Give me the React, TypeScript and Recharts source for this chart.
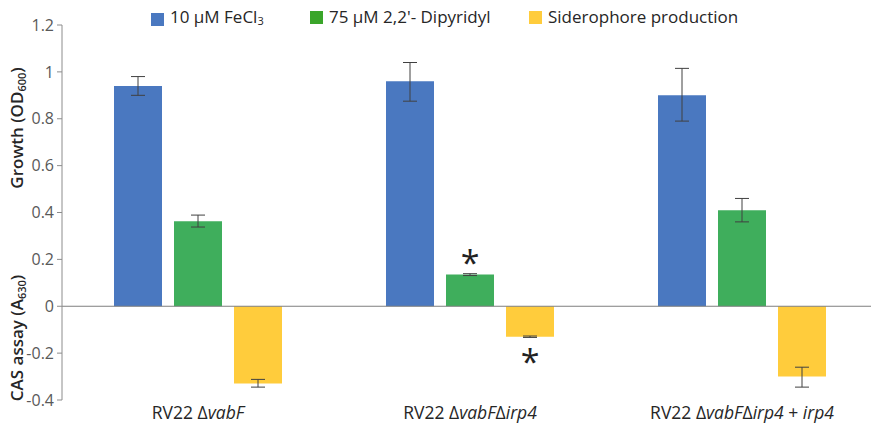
import React from 'react';
import { BarChart, Bar, XAxis, YAxis, ErrorBar, ReferenceLine, LabelList } from 'recharts';

// group labels (italic parts marked)
const strains = ['RV22 ΔvabF', 'RV22 ΔvabFΔirp4', 'RV22 ΔvabFΔirp4 + irp4'];
const tickParts: [string, boolean][][] = [
  [['RV22 Δ', false], ['vabF', true]],
  [['RV22 Δ', false], ['vabF', true], ['Δ', false], ['irp4', true]],
  [['RV22 Δ', false], ['vabF', true], ['Δ', false], ['irp4', true], [' + ', false], ['irp4', true]],
];

const fecl3 = [0.94, 0.96, 0.9];
const fecl3Err = [[0.04, 0.04], [0.085, 0.08], [0.11, 0.115]];
const dipyridyl = [0.363, 0.135, 0.41];
const dipyridylErr = [[0.025, 0.026], [0.004, 0.004], [0.05, 0.05]];
const siderophore = [-0.33, -0.13, -0.3];
const siderophoreErr = [[0.015, 0.018], [0.003, 0.003], [0.045, 0.04]];
const dipyridylSig = [false, true, false];
const siderophoreSig = [false, true, false];

const yTicks = [-0.4, -0.2, 0, 0.2, 0.4, 0.6, 0.8, 1, 1.2];

const COLORS = { blue: '#4a78c0', green: '#3fae5c', yellow: '#ffcc3c', legendGreen: '#3aa52a' };
const FONT = '"Open Sans", sans-serif';

const data = strains.map((name, i) => ({
  name,
  fecl3: fecl3[i],
  fecl3Err: fecl3Err[i],
  dipyridyl: dipyridyl[i],
  dipyridylErr: dipyridylErr[i],
  siderophore: siderophore[i],
  siderophoreErr: siderophoreErr[i],
}));

const legendItems = [
  { label: <>10 µM FeCl<sub style={{ fontSize: 11, verticalAlign: -2 }}>3</sub></>, color: COLORS.blue, left: 151 },
  { label: <>75 µM 2,2'- Dipyridyl</>, color: COLORS.legendGreen, left: 310 },
  { label: <>Siderophore production</>, color: COLORS.yellow, left: 529 },
];

const ChartLegend = () => (
  <div style={{ position: 'absolute', left: 0, top: 0, width: 871, height: 30, fontFamily: FONT, fontSize: 17, color: '#262626', lineHeight: '20px' }}>
    {legendItems.map((it, i) => (
      <div key={i} style={{ position: 'absolute', left: it.left, top: 7, display: 'flex', alignItems: 'center', whiteSpace: 'nowrap' }}>
        <span style={{ display: 'inline-block', width: 13, height: 13, background: it.color, marginRight: 6 }} />
        <span>{it.label}</span>
      </div>
    ))}
  </div>
);

const StrainTick = (props: any) => {
  const { x, y, payload } = props;
  const parts = tickParts[payload.index] || [[payload.value, false]];
  return (
    <text x={x} y={y + 11} textAnchor="middle" fontFamily={FONT} fontSize={17.5} fill="#262626">
      {parts.map(([t, it], k) => (
        <tspan key={k} fontStyle={it ? 'italic' : 'normal'}>{t}</tspan>
      ))}
    </text>
  );
};

const YTitles = () => (
  <g fontFamily={FONT} fontSize={17} fontWeight={600} fill="#262626">
    <text transform="translate(23,128) rotate(-90)" textAnchor="middle">
      Growth (OD<tspan fontSize={11} dy={3}>600</tspan><tspan dy={-3}>)</tspan>
    </text>
    <text transform="translate(23,338) rotate(-90)" textAnchor="middle">
      CAS assay (A<tspan fontSize={11} dy={3}>630</tspan><tspan dy={-3}>)</tspan>
    </text>
  </g>
);

const star = (sig: boolean[], above: boolean) => (props: any) => {
  const { x, y, width, height, index } = props;
  if (!sig[index]) return null;
  const top = Math.min(y, y + height);
  const bottom = Math.max(y, y + height);
  const cy = above ? top - 18 : bottom + 19;
  return (
    <text x={x + width / 2} y={cy + 18} textAnchor="middle" fontFamily={FONT} fontSize={34} fill="#222">*</text>
  );
};

export default function App() {
  return (
    <div style={{ position: 'absolute', left: 0, top: 0, width: 871, height: 425, overflow: 'hidden', background: '#fff' }}>
      <BarChart
        width={878}
        height={425}
        data={data}
        margin={{ top: 25, right: 0, bottom: 0, left: 0 }}
        barSize={48}
        barGap={12}
        barCategoryGap={52}
      >
        <XAxis dataKey="name" axisLine={false} tickLine={false} height={25} tick={<StrainTick />} interval={0} />
        <YAxis
          width={62}
          domain={[-0.4, 1.2]}
          ticks={yTicks}
          interval={0}
          tickSize={5}
          tickMargin={3}
          axisLine={{ stroke: '#8c8c8c' }}
          tickLine={{ stroke: '#8c8c8c' }}
          tick={{ fill: '#595959', fontSize: 16, fontFamily: FONT }}
          tickFormatter={(v: number) => String(v)}
          label={<YTitles />}
        />
        <ReferenceLine y={0} stroke="#7f7f7f" strokeWidth={1} />
        <Bar dataKey="fecl3" fill={COLORS.blue} isAnimationActive={false}>
          <ErrorBar dataKey="fecl3Err" width={7} stroke="#404040" strokeWidth={1} />
        </Bar>
        <Bar dataKey="dipyridyl" fill={COLORS.green} isAnimationActive={false}>
          <ErrorBar dataKey="dipyridylErr" width={7} stroke="#404040" strokeWidth={1} />
          <LabelList dataKey="dipyridyl" content={star(dipyridylSig, true)} />
        </Bar>
        <Bar dataKey="siderophore" fill={COLORS.yellow} isAnimationActive={false}>
          <ErrorBar dataKey="siderophoreErr" width={7} stroke="#404040" strokeWidth={1} />
          <LabelList dataKey="siderophore" content={star(siderophoreSig, false)} />
        </Bar>
      </BarChart>
      <ChartLegend />
    </div>
  );
}
